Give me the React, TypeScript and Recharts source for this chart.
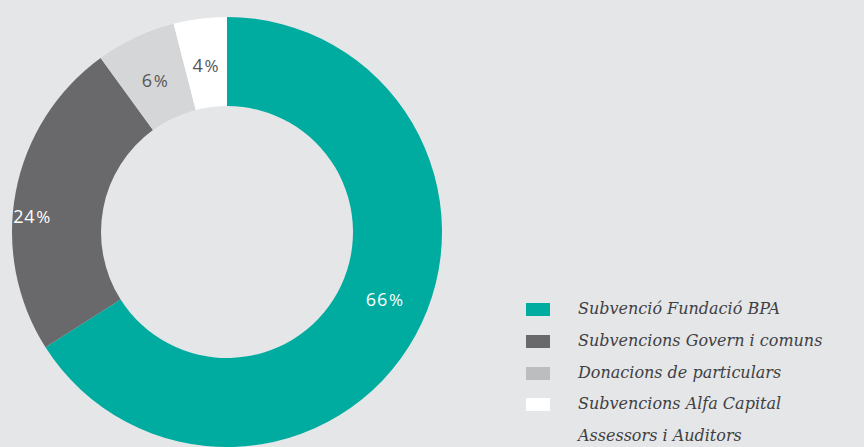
import React from "react";
import { PieChart, Pie, Cell, Legend } from "recharts";

const categories = [
  "Subvenció Fundació BPA",
  "Subvencions Govern i comuns",
  "Donacions de particulars",
  "Subvencions Alfa Capital Assessors i Auditors",
];
const values = [66, 24, 6, 4];
const legendLines = [
  ["Subvenció Fundació BPA"],
  ["Subvencions Govern i comuns"],
  ["Donacions de particulars"],
  ["Subvencions Alfa Capital", "Assessors i Auditors"],
];

const sliceColors = ["#00ab9f", "#69696b", "#d5d6d8", "#ffffff"];
const swatchColors = ["#00ab9f", "#69696b", "#bcbdbf", "#ffffff"];
const labelColors = ["#ffffff", "#ffffff", "#555557", "#555557"];
const labelAngleNudge = [5.8, 6, 0, 0];
const labelRadiusNudge = [1, 25, -2, -2];

const data = categories.map((name, i) => ({ name, value: values[i] }));

const RAD = Math.PI / 180;

const renderLabel = (props: any) => {
  const { cx, cy, midAngle, innerRadius, outerRadius, index, value } = props;
  const r = (innerRadius + outerRadius) / 2 + labelRadiusNudge[index];
  const a = (midAngle + labelAngleNudge[index]) * RAD;
  const x = cx + r * Math.cos(a);
  const y = cy - r * Math.sin(a);
  return (
    <text
      x={x}
      y={y}
      fill={labelColors[index]}
      textAnchor="middle"
      dominantBaseline="central"
      fontFamily="'Open Sans', sans-serif"
      fontSize={18}
      fontWeight={500}
      letterSpacing={0.8}
    >
      {value}
      <tspan dx={1} fontSize={17}>%</tspan>
    </text>
  );
};

const renderLegend = () => {
  let row = 0;
  const items: React.ReactNode[] = [];
  legendLines.forEach((lines, i) => {
    lines.forEach((line, j) => {
      items.push(
        <div
          key={`${i}-${j}`}
          style={{ position: "absolute", left: 0, top: row * 31.8, height: 13, width: 340 }}
        >
          {j === 0 && (
            <div
              style={{
                position: "absolute",
                left: 0,
                top: 0,
                width: 24,
                height: 13,
                background: swatchColors[i],
              }}
            />
          )}
          <div
            style={{
              position: "absolute",
              left: 52,
              top: -6,
              lineHeight: "24px",
              fontFamily: "'DejaVu Serif', serif",
              fontStyle: "italic",
              fontSize: 16,
              color: "#404042",
              whiteSpace: "nowrap",
            }}
          >
            {line}
          </div>
        </div>
      );
      row++;
    });
  });
  return <div style={{ position: "relative", width: 340, height: 150 }}>{items}</div>;
};

export default function App() {
  return (
    <div
      style={{
        position: "absolute",
        left: 0,
        top: 0,
        width: 864,
        height: 447,
        background: "#e5e6e8",
        overflow: "hidden",
      }}
    >
      <PieChart width={864} height={447} margin={{ top: 0, right: 0, bottom: 0, left: 0 }}>
        <Pie
          data={data}
          dataKey="value"
          nameKey="name"
          cx={227}
          cy={232}
          outerRadius={215}
          innerRadius={126}
          startAngle={90}
          endAngle={-270}
          stroke="none"
          label={renderLabel}
          labelLine={false}
          isAnimationActive={false}
        >
          {data.map((d, i) => (
            <Cell key={d.name} fill={sliceColors[i]} />
          ))}
        </Pie>
        <Legend
          content={renderLegend}
          wrapperStyle={{ position: "absolute", left: 526, top: 303, width: 340, height: 150 }}
        />
      </PieChart>
    </div>
  );
}
